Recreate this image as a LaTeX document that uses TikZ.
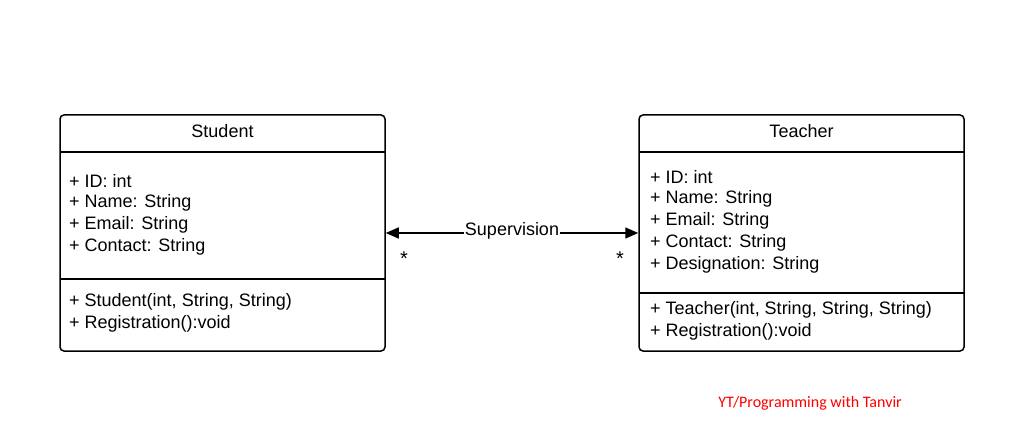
\documentclass[tikz,border=0pt]{standalone}
\usepackage{fontspec}
\setmainfont{Liberation Sans}
\newfontfamily\wmfont{Carlito}
\usetikzlibrary{arrows.meta}
\begin{document}
\begin{tikzpicture}[x=1pt,y=-1pt,
  classbox/.style={draw, line width=1.5pt, rounded corners=4pt, minimum width=325pt, minimum height=236pt, inner sep=0pt},
  divider/.style={line width=1.5pt},
  txt/.style={anchor=west, inner sep=0pt, font=\fontsize{18}{20}\selectfont},
  title/.style={inner sep=0pt, font=\fontsize{18}{20}\selectfont},
  assoc/.style={line width=1.5pt, {Triangle[length=13pt,width=11pt]}-{Triangle[length=13pt,width=11pt]}},
  mult/.style={inner sep=0pt, font=\fontsize{20}{20}\selectfont}
]
\useasboundingbox[fill=white] (0,0) rectangle (1033,441);
% Student
\node[classbox] (student) at (222.5,233) {};
\node[title] (stitle) at (222.5,131) {Student};
\draw[divider] (60,152) coordinate (s1a) -- (385,152) coordinate (s1b);
\draw[divider] (60,279) coordinate (s2a) -- (385,279) coordinate (s2b);
\node[txt] (sa1) at (69,181) {+ ID: int};
\node[txt] (sa2) at (69,203) {+ Name: String};
\node[txt] (sa3) at (69,225) {+ Email: String};
\node[txt] (sa4) at (69,247) {+ Contact: String};
\node[txt] (sm1) at (69,302) {+ Student(int, String, String)};
\node[txt] (sm2) at (69,324) {+ Registration():void};
% Teacher
\node[classbox] (teacher) at (801.5,233) {};
\node[title] (ttitle) at (801.5,131) {Teacher};
\draw[divider] (639,152) coordinate (t1a) -- (964,152) coordinate (t1b);
\draw[divider] (639,293) coordinate (t2a) -- (964,293) coordinate (t2b);
\node[txt] (ta1) at (650,177) {+ ID: int};
\node[txt] (ta2) at (650,199) {+ Name: String};
\node[txt] (ta3) at (650,221) {+ Email: String};
\node[txt] (ta4) at (650,243) {+ Contact: String};
\node[txt] (ta5) at (650,265) {+ Designation: String};
\node[txt] (tm1) at (650,310) {+ Teacher(int, String, String, String)};
\node[txt] (tm2) at (650,332) {+ Registration():void};
% Association
\draw[assoc] (student.east) -- node[fill=white, inner sep=0.5pt, font=\fontsize{18}{20}\selectfont, yshift=2pt] (sup) {Supervision} (teacher.west);
\node[mult] (m1) at (404,259) {*};
\node[mult] (m2) at (620,259) {*};
% Watermark
\node[inner sep=0pt, text=red, font=\wmfont\fontsize{16}{18}\selectfont] (wm) at (810,403) {YT/Programming with Tanvir};
\end{tikzpicture}
\end{document}
